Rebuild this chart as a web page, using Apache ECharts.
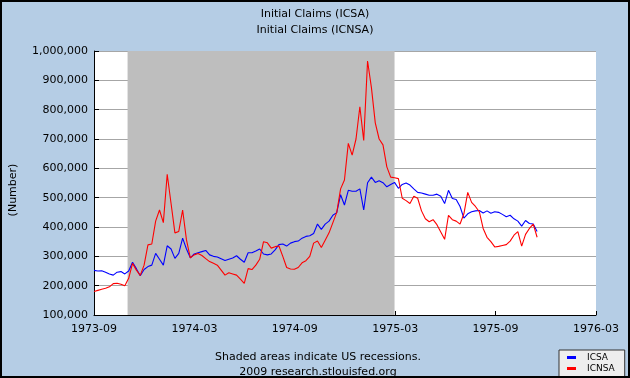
<!DOCTYPE html>
<html><head><meta charset="utf-8">
<script src="https://cdn.jsdelivr.net/npm/echarts@6/dist/echarts.min.js"></script>
<style>html,body{margin:0;padding:0;background:#b5cde5}#c{width:630px;height:378px}</style>
</head><body><div id="c"></div>
<script>
// Weekly data, week ending Saturdays starting 1973-09-01
const firstWeek = '1973-09-01';
const tickLabels = ['1973-09', '1974-03', '1974-09', '1975-03', '1975-09', '1976-03'];
const recession = ['1973-11-01', '1975-03-01'];
const yTicks = { min: 100000, max: 1000000, step: 100000 };

const icsa = [
  252000, 250000, 251000, 246000, 240000, 236000, 246000, 248000, 240000, 250000,
  280000, 258000, 234000, 255000, 265000, 270000, 310000, 290000, 270000, 336000,
  325000, 293000, 310000, 362000, 325000, 295000, 308000, 312000, 316000, 320000,
  305000, 300000, 298000, 292000, 286000, 290000, 294000, 302000, 290000, 280000,
  312000, 312000, 318000, 325000, 308000, 305000, 308000, 322000, 340000, 342000,
  335000, 345000, 350000, 352000, 362000, 368000, 370000, 378000, 410000, 392000,
  410000, 420000, 440000, 449000, 510000, 475000, 525000, 522000, 522000, 530000,
  458000, 551000, 570000, 552000, 558000, 551000, 537000, 545000, 552000, 532000,
  545000, 550000, 543000, 530000, 518000, 516000, 512000, 508000, 508000, 512000,
  505000, 480000, 525000, 497000, 494000, 470000, 430000, 445000, 452000, 455000,
  456000, 448000, 455000, 447000, 452000, 450000, 443000, 435000, 440000, 428000,
  420000, 403000, 422000, 412000, 410000, 385000
];
const icnsa = [
  180000, 184000, 188000, 191000, 196000, 207000, 208000, 205000, 200000, 225000,
  276000, 253000, 235000, 270000, 339000, 342000, 420000, 458000, 415000, 580000,
  480000, 380000, 385000, 458000, 356000, 295000, 305000, 310000, 303000, 292000,
  282000, 276000, 270000, 253000, 236000, 244000, 240000, 236000, 222000, 208000,
  258000, 255000, 270000, 290000, 350000, 346000, 328000, 333000, 335000, 300000,
  262000, 257000, 256000, 262000, 278000, 285000, 300000, 345000, 352000, 330000,
  355000, 380000, 415000, 450000, 530000, 560000, 685000, 645000, 700000, 810000,
  695000, 966000, 875000, 755000, 700000, 680000, 605000, 570000, 568000, 565000,
  498000, 490000, 480000, 505000, 498000, 455000, 428000, 418000, 425000, 408000,
  383000, 358000, 440000, 425000, 420000, 410000, 445000, 518000, 484000, 470000,
  452000, 395000, 365000, 350000, 332000, 334000, 337000, 340000, 352000, 372000,
  384000, 335000, 375000, 395000, 410000, 365000
];

const DAY = 86400000;
const t0 = Date.parse(tickLabels[0] + '-01');
const dayOf = s => Math.round((Date.parse(s) - t0) / DAY);
const weekDates = [];
for (let i = 0; i < icsa.length; i++) {
  const d = new Date(Date.parse(firstWeek) + i * 7 * DAY);
  weekDates.push(d.toISOString().slice(0, 10));
}
const xMax = dayOf(tickLabels[tickLabels.length - 1] + '-01');
const xStep = xMax / (tickLabels.length - 1);

const font = 'DejaVu Sans';
const chart = echarts.init(document.getElementById('c'));
chart.setOption({
  backgroundColor: '#b5cde5',
  animation: false,
  title: {
    text: 'Initial Claims (ICSA)\nInitial Claims (ICNSA)',
    left: 'center', top: 6, padding: 0,
    textStyle: { fontFamily: font, fontSize: 11, fontWeight: 'normal', color: '#000', lineHeight: 16 }
  },
  legend: {
    orient: 'vertical', left: 559, top: 350, height: 40,
    backgroundColor: '#eeeeee', borderColor: '#333', borderWidth: 1,
    padding: [3, 10, 6, 8], itemWidth: 9, itemHeight: 3, itemGap: 2, icon: 'rect',
    textStyle: { fontFamily: font, fontSize: 9, color: '#000', padding: [0, 0, 0, 6] },
    data: ['ICSA', 'ICNSA']
  },
  grid: { left: 94, top: 51, right: 34, bottom: 63, show: true, backgroundColor: '#ffffff', borderWidth: 0 },
  xAxis: {
    type: 'value', min: 0, max: xMax, interval: xStep,
    axisLine: { lineStyle: { color: '#000', width: 1 } },
    axisTick: { inside: true, length: 4, lineStyle: { color: '#000' } },
    splitLine: { show: false },
    axisLabel: {
      margin: 9, fontFamily: font, fontSize: 11, color: '#000',
      formatter: v => tickLabels[Math.round(v / xStep)] || ''
    }
  },
  yAxis: {
    type: 'value', min: yTicks.min, max: yTicks.max, interval: yTicks.step,
    axisLine: { show: true, lineStyle: { color: '#000', width: 1 } },
    axisTick: { show: true, inside: true, length: 5, lineStyle: { color: '#000' } },
    splitLine: { show: true, lineStyle: { color: '#a6a6a6', width: 1 } },
    axisLabel: {
      margin: 6, fontFamily: font, fontSize: 11, color: '#000',
      formatter: v => v.toLocaleString('en-US')
    }
  },
  series: [
    {
      name: 'ICSA', type: 'line', showSymbol: false, z: 3,
      lineStyle: { color: '#0000ff', width: 1.1 }, itemStyle: { color: '#0000ff' },
      data: icsa.map((v, i) => [dayOf(weekDates[i]), v]),
      markArea: {
        silent: true,
        itemStyle: { color: '#bebebe', opacity: 1 },
        data: [[{ xAxis: dayOf(recession[0]) }, { xAxis: dayOf(recession[1]) }]]
      }
    },
    {
      name: 'ICNSA', type: 'line', showSymbol: false, z: 4,
      lineStyle: { color: '#ff0000', width: 1.1 }, itemStyle: { color: '#ff0000' },
      data: icnsa.map((v, i) => [dayOf(weekDates[i]), v])
    }
  ],
  graphic: [
    { type: 'text', x: 13, y: 190, rotation: Math.PI / 2,
      style: { text: '(Number)', fontFamily: font, fontSize: 11, fill: '#000', align: 'center', verticalAlign: 'middle' } },
    { type: 'text', x: 318, y: 357,
      style: { text: 'Shaded areas indicate US recessions.', fontFamily: font, fontSize: 11, fill: '#000', align: 'center', verticalAlign: 'middle' } },
    { type: 'text', x: 318, y: 372,
      style: { text: '2009 research.stlouisfed.org', fontFamily: font, fontSize: 11, fill: '#000', align: 'center', verticalAlign: 'middle' } },
    { type: 'rect', z: 100, shape: { x: 1, y: 1, width: 628, height: 376 },
      style: { fill: 'none', stroke: '#000', lineWidth: 2 } }
  ]
});
</script>
</body></html>
